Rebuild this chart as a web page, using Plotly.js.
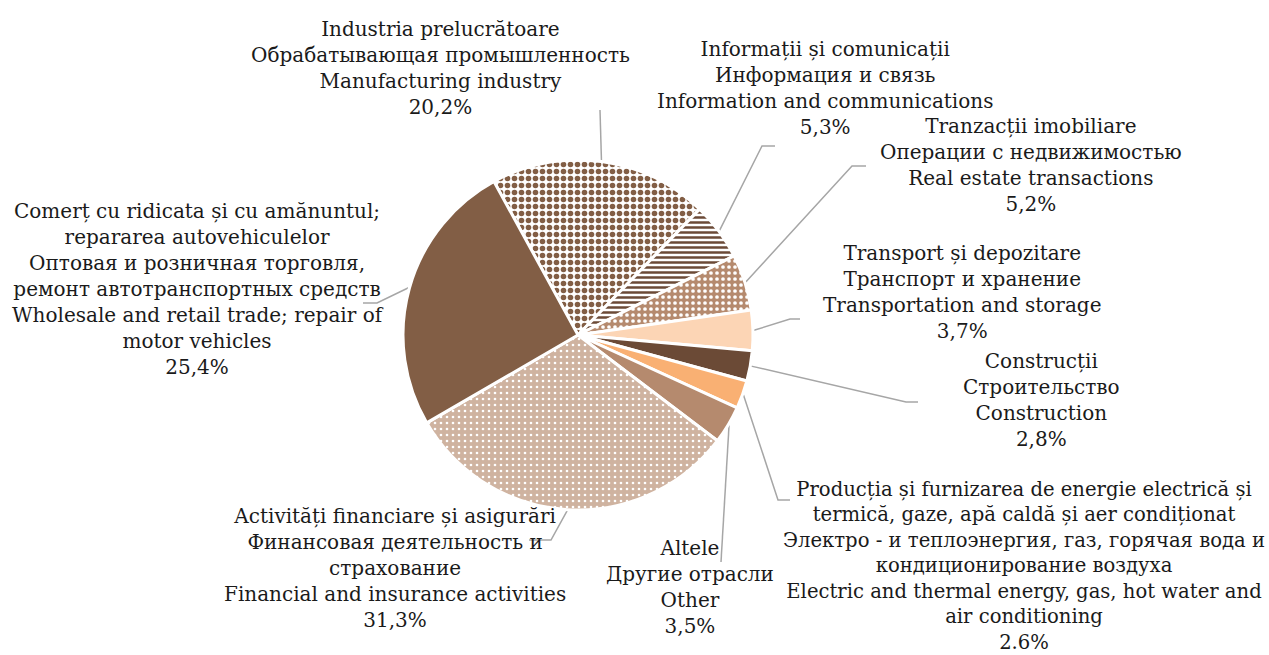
<!DOCTYPE html>
<html>
<head>
<meta charset="utf-8">
<script src="https://cdn.plot.ly/plotly-3.0.1.min.js"></script>
<style>html,body{margin:0;padding:0;background:#fff;}#chart{width:1269px;height:655px;}</style>
</head>
<body>
<div id="chart"></div>
<script>
// ---- data ----
const categories = [
  "Industria prelucrătoare<br>Обрабатывающая промышленность<br>Manufacturing industry",
  "Informații și comunicații<br>Информация и связь<br>Information and communications",
  "Tranzacții imobiliare<br>Операции с недвижимостью<br>Real estate transactions",
  "Transport și depozitare<br>Транспорт и хранение<br>Transportation and storage",
  "Construcții<br>Строительство<br>Construction",
  "Producția și furnizarea de energie electrică și<br>termică, gaze, apă caldă și aer condiționat<br>Электро - и теплоэнергия, газ, горячая вода и<br>кондиционирование воздуха<br>Electric and thermal energy, gas, hot water and<br>air conditioning",
  "Altele<br>Другие отрасли<br>Other",
  "Activități financiare și asigurări<br>Финансовая деятельность и<br>страхование<br>Financial and insurance activities",
  "Comerț cu ridicata și cu amănuntul;<br>repararea autovehiculelor<br>Оптовая и розничная торговля,<br>ремонт автотранспортных средств<br>Wholesale and retail trade; repair of<br>motor vehicles"
];
const shares = [20.2, 5.3, 5.2, 3.7, 2.8, 2.6, 3.5, 31.3, 25.4];
const shareLabels = ["20,2%", "5,3%", "5,2%", "3,7%", "2,8%", "2.6%", "3,5%", "31,3%", "25,4%"];

// ---- styles / layout ----
const W = 1269, H = 655;
const CX = 578, CY = 335, R = 175;
const ROT = -28.7;
const sliceColors = ["#825e45", "#6b4a36", "#b58a6e", "#fcd5b5", "#6b4a36", "#f9b073", "#b58a6e", "#d6bfae", "#825e45"];
const patShape = [".", "-", ".", "", "", "", "", ".", ""];
const patFg = ["#825e45", "#6b4a36", "#ffffff", "#ffffff", "#ffffff", "#ffffff", "#ffffff", "#ffffff", "#ffffff"];
const patBg = ["#ffffff", "#ffffff", "#b58a6e", "#fcd5b5", "#6b4a36", "#f9b073", "#b58a6e", "#cfb3a0", "#825e45"];
const patSize = [7, 5, 6, 8, 8, 8, 8, 6, 8];
const patSolid = [0.5, 0.5, 0.3, 0.3, 0.3, 0.3, 0.3, 0.15, 0.3];
// label block centres (px), font sizes and leader-line elbows (px)
const labelPos = [[440, 68], [825, 88], [1031, 165], [962, 292], [1041, 400], [1024, 566], [690, 587], [395, 568], [198, 289]];
const labelSize = [20, 20, 20, 20, 20, 19.6, 20, 20, 20];
const elbows = [
  [[600, 110]],
  [[762, 146], [775, 146]],
  [[852, 166], [866, 166]],
  [[790, 319], [800, 319]],
  [[906, 402], [918, 402]],
  [[778, 500], [790, 500]],
  [[721, 562]],
  [[551, 540], [529, 540]],
  [[377, 303], [363, 303]]
];
const FONT = "'DejaVu Serif', serif";

const px = x => x / W;
const py = y => 1 - y / H;

const total = shares.reduce((a, b) => a + b, 0);
let cum = 0;
const annotations = [];
const shapes = [];
shares.forEach((v, i) => {
  const mid = (ROT + (cum + v / 2) / total * 360) * Math.PI / 180;
  cum += v;
  const sx = CX + (R + 1) * Math.sin(mid), sy = CY - (R + 1) * Math.cos(mid);
  let path = `M ${px(sx)} ${py(sy)}`;
  elbows[i].forEach(p => { path += ` L ${px(p[0])} ${py(p[1])}`; });
  shapes.push({type: "path", xref: "paper", yref: "paper", path: path,
    line: {color: "#a6a6a6", width: 1.5}, layer: "below"});
  annotations.push({
    xref: "paper", yref: "paper", x: px(labelPos[i][0]), y: py(labelPos[i][1]),
    xanchor: "center", yanchor: "middle", align: "center", showarrow: false,
    text: categories[i] + "<br>" + shareLabels[i],
    font: {family: FONT, size: labelSize[i], color: "#1a1a1a"}
  });
});

const trace = {
  type: "pie",
  values: shares,
  labels: categories,
  sort: false,
  direction: "clockwise",
  rotation: ROT,
  textinfo: "none",
  hoverinfo: "label+percent",
  showlegend: false,
  domain: {x: [(CX - R) / W, (CX + R) / W], y: [(H - CY - R) / H, (H - CY + R) / H]},
  marker: {
    colors: sliceColors,
    line: {color: "#ffffff", width: 3},
    pattern: {shape: patShape, fgcolor: patFg, bgcolor: patBg, size: patSize, solidity: patSolid, fillmode: "replace"}
  }
};

const layout = {
  width: W, height: H,
  margin: {l: 0, r: 0, t: 0, b: 0},
  paper_bgcolor: "#ffffff",
  plot_bgcolor: "#ffffff",
  showlegend: false,
  annotations: annotations,
  shapes: shapes
};

Plotly.newPlot("chart", [trace], layout, {displayModeBar: false, staticPlot: true});
</script>
</body>
</html>
